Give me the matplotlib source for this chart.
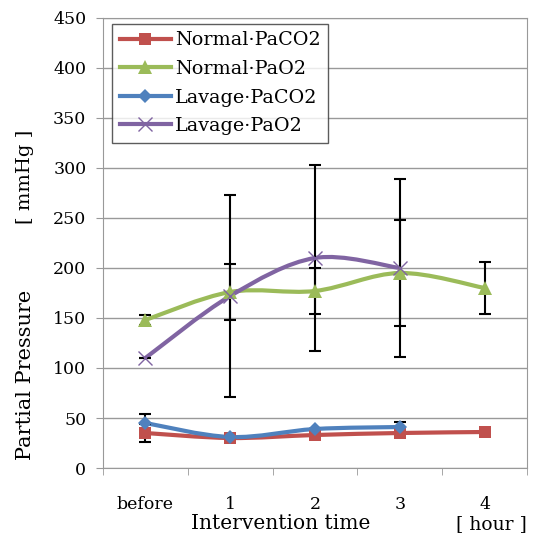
import numpy as np
import matplotlib
matplotlib.use("Agg")
import matplotlib.pyplot as plt
from matplotlib.path import Path
from matplotlib.patches import PathPatch
from matplotlib.lines import Line2D

plt.rcParams["font.family"] = ["DejaVu Serif", "Liberation Serif"]

categories = ["before", "1", "2", "3", "4"]

normal_paco2 = [35, 30, 33, 35, 36]
normal_paco2_err = [9, 0, 0, 0, 0]
normal_pao2 = [148, 176, 177, 195, 180]
normal_pao2_err = [5, 28, 23, 53, 26]
lavage_paco2 = [45, 31, 39, 41]
lavage_paco2_err = [9, 0, 0, 5]
lavage_pao2 = [110, 172, 210, 200]
lavage_pao2_err = [0, 101, 93, 89]

series = [
    ("Normal·PaCO2", normal_paco2, normal_paco2_err, "#C0504D", "s", 9),
    ("Normal·PaO2", normal_pao2, normal_pao2_err, "#9BBB59", "^", 10),
    ("Lavage·PaCO2", lavage_paco2, lavage_paco2_err, "#4F81BD", "D", 7),
    ("Lavage·PaO2", lavage_pao2, lavage_pao2_err, "#8064A2", "x", 10),
]


def smooth_path(x, y):
    # Excel-style smoothed line: Catmull-Rom as cubic Bezier segments
    pts = np.column_stack([x, y]).astype(float)
    verts = [pts[0]]
    codes = [Path.MOVETO]
    n = len(pts)
    for i in range(n - 1):
        p0 = pts[max(i - 1, 0)]
        p1 = pts[i]
        p2 = pts[i + 1]
        p3 = pts[min(i + 2, n - 1)]
        c1 = p1 + (p2 - p0) / 6
        c2 = p2 - (p3 - p1) / 6
        verts += [c1, c2, p2]
        codes += [Path.CURVE4] * 3
    return Path(verts, codes)


fig = plt.figure(figsize=(5.35, 5.39), dpi=100)
ax = fig.add_axes([0.1925, 0.1317, 0.7925, 0.835])

handles = []
for label, vals, errs, color, marker, ms in series:
    x = np.arange(len(vals))
    ax.add_patch(PathPatch(smooth_path(x, vals), fill=False, edgecolor=color,
                           lw=3, zorder=3, capstyle="round"))
    ax.errorbar(x, vals, yerr=errs, fmt="none", ecolor="black", elinewidth=1.5,
                capsize=4, capthick=1.5, zorder=4)
    mew = 1 if marker == "x" else 0
    ax.plot(x, vals, ls="none", marker=marker, ms=ms, color=color,
            mec=color, mew=mew, zorder=5)
    handles.append(Line2D([], [], color=color, lw=3, marker=marker, ms=ms,
                          mew=mew, label=label))

ax.set_xlim(-0.5, 4.5)
ax.set_ylim(0, 450)
ax.set_yticks(np.arange(0, 451, 50))
ax.set_xticks(np.arange(len(categories)))
ax.set_xticklabels(categories)
ax.set_xticks(np.arange(-0.5, 4.6, 1), minor=True)
ax.tick_params(axis="x", which="major", length=0, pad=20, labelsize=12.5)
ax.tick_params(axis="x", which="minor", length=5, color="#999999", direction="out")
ax.tick_params(axis="y", length=5, color="#999999", labelsize=12.5, pad=7)
ax.grid(axis="y", color="#999999", lw=1)
ax.set_axisbelow(True)
for s in ax.spines.values():
    s.set_color("#999999")

leg = ax.legend(handles=handles, loc="upper left", bbox_to_anchor=(0.021, 0.987),
                fontsize=13.8, frameon=True, fancybox=False, borderpad=0.4,
                labelspacing=0.55, handlelength=2.7, handletextpad=0.18,
                borderaxespad=0)
leg.get_frame().set_edgecolor("#333333")
leg.get_frame().set_linewidth(1)

fig.text(0.525, 0.028, "Intervention time", fontsize=14.5, ha="center", va="center")
fig.text(0.918, 0.028, "[ hour ]", fontsize=13.5, ha="center", va="center")
fig.text(0.047, 0.304, "Partial Pressure", fontsize=15, rotation=90,
         ha="center", va="center")
fig.text(0.047, 0.672, "[ mmHg ]", fontsize=14, rotation=90,
         ha="center", va="center")

fig.savefig("out.png", dpi=100)
